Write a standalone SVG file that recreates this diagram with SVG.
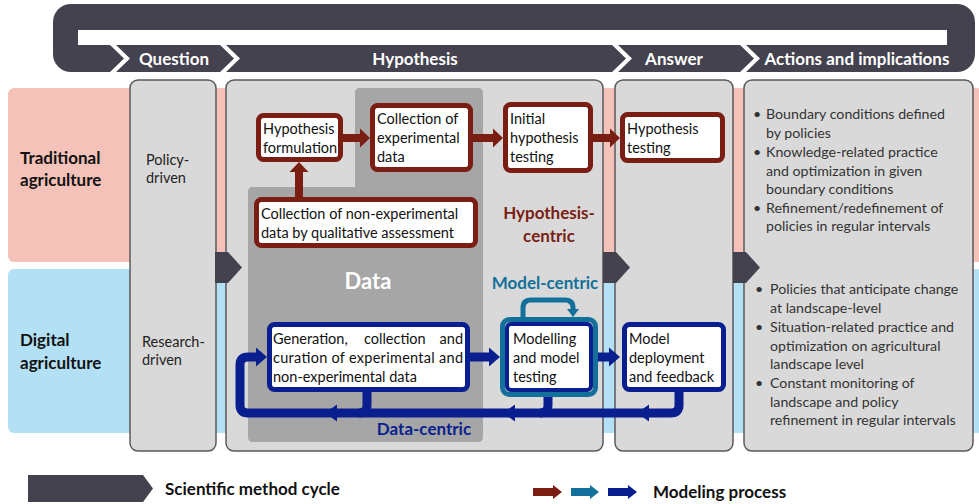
<svg xmlns="http://www.w3.org/2000/svg" width="979" height="504" viewBox="0 0 979 504">
<defs>
<style>
text{font-family:Lato,"Open Sans","Liberation Sans",sans-serif;}
.hdr{font-size:17px;font-weight:700;fill:#fff;text-anchor:middle}
.col{fill:#D9D9D9;stroke:#595959;stroke-width:1.5}
.lbl{font-size:17px;font-weight:700;fill:#111}
.sm{font-size:14.5px;fill:#222}
.bx{font-size:14.5px;fill:#111}
.bul{font-size:14.2px;fill:#333}
.rbox{fill:#fff;stroke:#7A1E14;stroke-width:5}
.nbox{fill:#fff;stroke:#0A1F8F;stroke-width:5}
.rc{fill:none;stroke:#7A1E14;stroke-width:8}
.nc{fill:none;stroke:#0A1F8F;stroke-width:9}
.tc{fill:none;stroke:#13709A;stroke-width:5}
.dk{fill:#43424E}
.wh{fill:#fff}
.nh{fill:#0A1F8F}
.rt{font-size:17px;font-weight:700;fill:#7A1E14;text-anchor:middle}
.tt{font-size:17px;font-weight:700;fill:#13709A;text-anchor:middle}
.nt{font-size:17px;font-weight:700;fill:#0A1F8F;text-anchor:middle}
.leg{font-size:17px;font-weight:700;fill:#111}
</style>
<marker id="mr" markerUnits="userSpaceOnUse" markerWidth="10" markerHeight="19" refX="0" refY="9.5" orient="auto" overflow="visible"><path d="M0,0 L10,9.5 L0,19Z" fill="#7A1E14"/></marker>
<marker id="mn" markerUnits="userSpaceOnUse" markerWidth="11" markerHeight="19" refX="0" refY="9.5" orient="auto" overflow="visible"><path d="M0,0 L11,9.5 L0,19Z" fill="#0A1F8F"/></marker>
<marker id="mt" markerUnits="userSpaceOnUse" markerWidth="8" markerHeight="12" refX="0" refY="6" orient="auto" overflow="visible"><path d="M0,0 L8,6 L0,12Z" fill="#13709A"/></marker>
<marker id="lr" markerUnits="userSpaceOnUse" markerWidth="9" markerHeight="14" refX="0" refY="7" orient="auto" overflow="visible"><path d="M0,0 L9,7 L0,14Z" fill="#7A1E14"/></marker>
<marker id="lt" markerUnits="userSpaceOnUse" markerWidth="9" markerHeight="14" refX="0" refY="7" orient="auto" overflow="visible"><path d="M0,0 L9,7 L0,14Z" fill="#13709A"/></marker>
<marker id="ln" markerUnits="userSpaceOnUse" markerWidth="9" markerHeight="14" refX="0" refY="7" orient="auto" overflow="visible"><path d="M0,0 L9,7 L0,14Z" fill="#0A1F8F"/></marker>
</defs>

<rect width="979" height="504" fill="#fff"/>

<g id="cycle-bar">
<rect x="53" y="4" width="922" height="68" rx="18" class="dk"/>
<rect x="78" y="30" width="869" height="15" class="wh"/>
<polygon points="110,45 116,45 130,58.5 116,72 110,72 124,58.5" class="wh"/>
<polygon points="220,45 226,45 240,58.5 226,72 220,72 234,58.5" class="wh"/>
<polygon points="612,45 618,45 632,58.5 618,72 612,72 626,58.5" class="wh"/>
<polygon points="740,45 746,45 760,58.5 746,72 740,72 754,58.5" class="wh"/>
<text x="174" y="65" class="hdr">Question</text>
<text x="415" y="65" class="hdr">Hypothesis</text>
<text x="674" y="65" class="hdr">Answer</text>
<text x="857" y="65" class="hdr">Actions and implications</text>
</g>

<g id="bands">
<rect x="8" y="88" width="975" height="174" rx="6" fill="#F4C2B8"/>
<rect x="8" y="269" width="975" height="164" rx="6" fill="#B3E0F4"/>
<text class="lbl"><tspan x="20" y="164">Traditional</tspan><tspan x="20" y="186">agriculture</tspan></text>
<text class="lbl"><tspan x="20" y="346">Digital</tspan><tspan x="20" y="369">agriculture</tspan></text>
</g>

<g id="col-question">
<rect x="130" y="80" width="86" height="371" rx="8" class="col"/>
<text class="sm"><tspan x="146" y="165">Policy-</tspan><tspan x="146" y="183">driven</tspan></text>
<text class="sm"><tspan x="142" y="347">Research-</tspan><tspan x="142" y="365">driven</tspan></text>
</g>
<g id="col-hypothesis">
<rect x="226" y="80" width="377" height="371" rx="8" class="col"/>
</g>
<g id="col-answer">
<rect x="615" y="80" width="118" height="371" rx="8" class="col"/>
</g>
<g id="col-actions">
<rect x="744" y="80" width="229" height="371" rx="8" class="col"/>
<g class="bul">
<text x="753" y="119">•</text><text x="766" y="119">Boundary conditions defined</text>
<text x="766" y="138">by policies</text>
<text x="753" y="157">•</text><text x="766" y="157">Knowledge-related practice</text>
<text x="766" y="176">and optimization in given</text>
<text x="766" y="194">boundary conditions</text>
<text x="753" y="213">•</text><text x="766" y="213">Refinement/redefinement of</text>
<text x="766" y="231">policies in regular intervals</text>
<text x="755" y="294">•</text><text x="770" y="294">Policies that anticipate change</text>
<text x="770" y="313">at landscape-level</text>
<text x="755" y="332">•</text><text x="770" y="332">Situation-related practice and</text>
<text x="770" y="351">optimization on agricultural</text>
<text x="770" y="369">landscape level</text>
<text x="755" y="388">•</text><text x="770" y="388">Constant monitoring of</text>
<text x="770" y="407">landscape and policy</text>
<text x="770" y="425">refinement in regular intervals</text>
</g>
</g>

<g id="data-region">
<path d="M360,88 H478 Q483,88 483,93 V437 Q483,442 478,442 H253 Q248,442 248,437 V192 Q248,187 253,187 H355 V93 Q355,88 360,88 Z" fill="#A6A6A6"/>
<text x="368" y="289" text-anchor="middle" font-size="22" font-weight="700" fill="#fff">Data</text>
</g>

<g id="stage-arrows">
<polygon points="215,252 228,252 242,267.5 228,283 215,283" class="dk"/>
<polygon points="603,252 616,252 630,267.5 616,283 603,283" class="dk"/>
<polygon points="733,252 746,252 760,267.5 746,283 733,283" class="dk"/>
</g>

<g id="connectors">
<path d="M343,138 H360" class="rc" marker-end="url(#mr)"/>
<path d="M473,138 H493" class="rc" marker-end="url(#mr)"/>
<path d="M593,138 H610" class="rc" marker-end="url(#mr)"/>
<path d="M299,197 V172" class="rc" marker-end="url(#mr)"/>
<path d="M470,357 H489" class="nc" marker-end="url(#mn)"/>
<path d="M598,357 H609" class="nc" marker-end="url(#mn)"/>
<path d="M679,392 V405 Q679,413 671,413 H248 Q240,413 240,405 V365 Q240,357 248,357 H256" class="nc" marker-end="url(#mn)"/>
<path d="M367,392 V405 Q367,413 359,413" class="nc"/>
<path d="M548,397 V405 Q548,413 540,413" class="nc"/>
<polygon points="325,413 337,404.5 337,421.5" class="nh"/>
<polygon points="503,413 515,404.5 515,421.5" class="nh"/>
<polygon points="637,413 649,404.5 649,421.5" class="nh"/>
<path d="M523,317 V308 Q523,300 531,300 H565 Q573,300 573,308 V309" class="tc" marker-end="url(#mt)"/>
</g>

<g id="hypothesis-formulation">
<rect x="258.5" y="115.5" width="82" height="44" rx="5" class="rbox"/>
<text class="bx"><tspan x="263" y="134">Hypothesis</tspan><tspan x="263" y="153">formulation</tspan></text>
</g>
<g id="collection-experimental">
<rect x="372.5" y="105.5" width="98" height="64" rx="5" class="rbox"/>
<text class="bx"><tspan x="377" y="124">Collection of</tspan><tspan x="377" y="143">experimental</tspan><tspan x="377" y="162">data</tspan></text>
</g>
<g id="initial-testing">
<rect x="505.5" y="104.5" width="85" height="66" rx="5" class="rbox"/>
<text class="bx"><tspan x="510" y="124">Initial</tspan><tspan x="510" y="143">hypothesis</tspan><tspan x="510" y="162">testing</tspan></text>
</g>
<g id="collection-nonexperimental">
<rect x="256.5" y="199.5" width="219" height="46" rx="5" class="rbox"/>
<text class="bx"><tspan x="261" y="219">Collection of non-experimental</tspan><tspan x="261" y="238">data by qualitative assessment</tspan></text>
</g>
<g id="hypothesis-testing">
<rect x="622.5" y="114.5" width="100" height="46" rx="5" class="rbox"/>
<text class="bx"><tspan x="627" y="134">Hypothesis</tspan><tspan x="627" y="153">testing</tspan></text>
</g>
<text x="549" y="219" class="rt">Hypothesis-</text>
<text x="549" y="242" class="rt">centric</text>

<g id="generation">
<rect x="269.5" y="324.5" width="198" height="65" rx="5" class="nbox"/>
<g class="bx">
<text x="273" y="344">Generation,</text><text x="364" y="344">collection</text><text x="463" y="344" text-anchor="end">and</text>
<text x="273" y="363" textLength="190" lengthAdjust="spacing">curation of experimental and</text>
<text x="273" y="382">non-experimental data</text>
</g>
</g>
<g id="modelling">
<rect x="502.5" y="319.5" width="93" height="75" rx="7" fill="none" stroke="#13709A" stroke-width="5"/>
<rect x="507" y="324" width="84" height="66" rx="4" fill="#fff" stroke="#0A1F8F" stroke-width="4"/>
<text class="bx"><tspan x="513" y="344">Modelling</tspan><tspan x="513" y="363">and model</tspan><tspan x="513" y="382">testing</tspan></text>
</g>
<g id="deployment">
<rect x="624.5" y="324.5" width="99" height="65" rx="5" class="nbox"/>
<text class="bx"><tspan x="629" y="344">Model</tspan><tspan x="629" y="363">deployment</tspan><tspan x="629" y="382">and feedback</tspan></text>
</g>
<text x="545" y="289" class="tt">Model-centric</text>
<text x="424" y="435" class="nt">Data-centric</text>

<g id="legend">
<polygon points="28,475 143,475 153,488.5 143,502 28,502" class="dk"/>
<text x="165" y="495" class="leg">Scientific method cycle</text>
<path d="M533,492 H553" stroke="#7A1E14" stroke-width="8" marker-end="url(#lr)"/>
<path d="M571,492 H590" stroke="#13709A" stroke-width="8" marker-end="url(#lt)"/>
<path d="M608,492 H628" stroke="#0A1F8F" stroke-width="8" marker-end="url(#ln)"/>
<text x="653" y="498" class="leg">Modeling process</text>
</g>
</svg>
